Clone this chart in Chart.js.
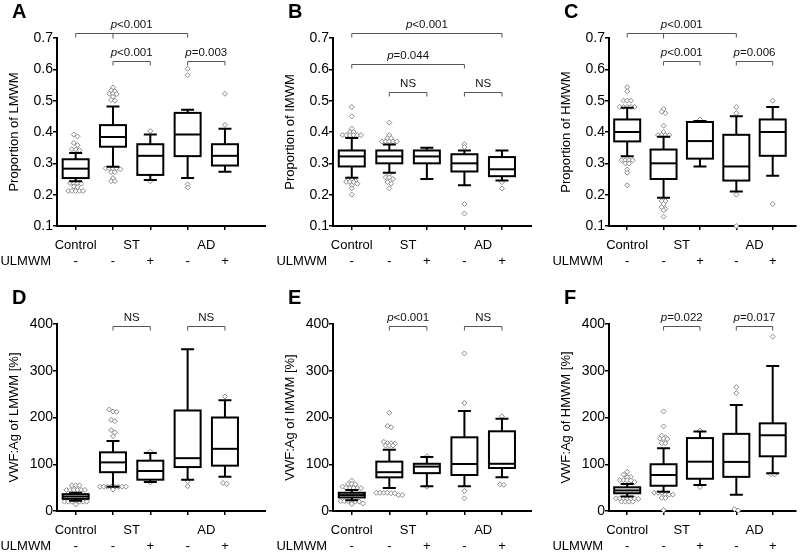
<!DOCTYPE html>
<html>
<head>
<meta charset="utf-8">
<script src="https://cdn.jsdelivr.net/npm/chart.js@4.4.1/dist/chart.umd.min.js"></script>
<style>
  body { margin: 0; background: #fff; }
  #fig { position: relative; width: 800px; height: 554px; overflow: hidden; }
  canvas { position: absolute; }
</style>
</head>
<body>
<div id="fig">
  <canvas id="pA" width="266" height="277" style="left:0;top:0"></canvas>
  <canvas id="pB" width="266" height="277" style="left:266px;top:0"></canvas>
  <canvas id="pC" width="268" height="277" style="left:532px;top:0"></canvas>
  <canvas id="pD" width="266" height="277" style="left:0;top:277px"></canvas>
  <canvas id="pE" width="266" height="277" style="left:266px;top:277px"></canvas>
  <canvas id="pF" width="268" height="277" style="left:532px;top:277px"></canvas>
</div>
<script>
//------------------------------------------ data ------------------------------------------
const xPositions = [1, 2, 3, 4, 5];
const groupLabels = ['Control', 'ST', 'AD'];
const groupCenters = [1, 2.5, 4.5];
const ulmwmLabels = ['-', '-', '+', '-', '+'];

// each box: [lower whisker, Q1, median, Q3, upper whisker]
const lmwmPropBoxes = [
  [0.243, 0.253, 0.283, 0.313, 0.333],
  [0.289, 0.353, 0.384, 0.422, 0.481],
  [0.247, 0.263, 0.324, 0.361, 0.392],
  [0.253, 0.323, 0.392, 0.461, 0.471],
  [0.273, 0.293, 0.324, 0.361, 0.410]
];
const lmwmPropOut = [
  [0.392, 0.386, 0.365, 0.358, 0.345, 0.344, 0.342, 0.237, 0.236, 0.236, 0.235, 0.226, 0.224, 0.212, 0.212, 0.212, 0.212, 0.212],
  [0.542, 0.533, 0.530, 0.522, 0.522, 0.521, 0.512, 0.502, 0.500, 0.284, 0.284, 0.284, 0.284, 0.281, 0.272, 0.272, 0.253, 0.243, 0.243],
  [0.403, 0.243],
  [0.602, 0.581, 0.233, 0.223],
  [0.522, 0.423]
];
const imwmPropBoxes = [
  [0.254, 0.290, 0.322, 0.341, 0.381],
  [0.270, 0.300, 0.322, 0.341, 0.360],
  [0.250, 0.300, 0.322, 0.341, 0.350],
  [0.230, 0.274, 0.300, 0.329, 0.341],
  [0.245, 0.259, 0.281, 0.320, 0.341]
];
const imwmPropOut = [
  [0.480, 0.450, 0.411, 0.400, 0.400, 0.390, 0.390, 0.390, 0.390, 0.390, 0.390, 0.250, 0.250, 0.244, 0.241, 0.241, 0.240, 0.235, 0.230, 0.220, 0.200],
  [0.430, 0.390, 0.380, 0.380, 0.370, 0.370, 0.370, 0.370, 0.370, 0.265, 0.255, 0.255, 0.250, 0.240, 0.235, 0.220],
  [],
  [0.361, 0.352, 0.170, 0.140],
  [0.240, 0.220]
];
const hmwmPropBoxes = [
  [0.323, 0.370, 0.400, 0.440, 0.477],
  [0.190, 0.250, 0.300, 0.344, 0.385],
  [0.290, 0.315, 0.371, 0.432, 0.435],
  [0.210, 0.245, 0.290, 0.391, 0.450],
  [0.260, 0.324, 0.400, 0.440, 0.480]
];
const hmwmPropOut = [
  [0.543, 0.530, 0.500, 0.500, 0.500, 0.480, 0.480, 0.480, 0.480, 0.480, 0.310, 0.310, 0.310, 0.310, 0.300, 0.300, 0.280, 0.270, 0.230],
  [0.473, 0.465, 0.460, 0.420, 0.400, 0.390, 0.390, 0.390, 0.390, 0.180, 0.180, 0.170, 0.160, 0.155, 0.150, 0.130],
  [0.440],
  [0.480, 0.460, 0.200, 0.100],
  [0.500, 0.170]
];
const lmwmAgBoxes = [
  [22, 26, 31, 36, 39],
  [52, 83, 104, 125.5, 150],
  [62, 67, 85.6, 107.6, 124],
  [67, 94, 113, 215, 346],
  [73, 97, 133, 200, 237]
];
const lmwmAgOut = [
  [55, 55, 55, 45, 45, 45, 45, 45, 45, 20, 20, 20, 20, 20, 20, 20, 14],
  [217, 213, 212, 195, 192, 173, 168, 160, 52, 52, 52, 52, 52, 52, 52, 52, 46],
  [127, 61],
  [64, 53],
  [245, 60, 58]
];
const imwmAgBoxes = [
  [23, 29, 34, 39, 45],
  [49, 72, 83, 105.6, 131],
  [53, 81, 95, 101, 115.5],
  [53, 77, 100.5, 157.6, 214],
  [72, 92, 101, 170.5, 197.5]
];
const imwmAgOut = [
  [65, 58, 58, 57, 52, 50, 49, 49, 49, 49, 21, 21, 21, 21, 20, 20, 16, 15],
  [210, 182, 179, 148, 145, 145, 144, 140, 140, 140, 39, 39, 39, 39, 38, 38, 34, 34],
  [117, 52],
  [337, 231, 43, 27],
  [202.5, 57, 56]
];
const hmwmAgBoxes = [
  [31, 38, 44, 50.7, 58],
  [41, 54, 77, 100, 134],
  [55.6, 69, 105.5, 156, 170],
  [35, 73, 105, 165, 227],
  [80.6, 117, 162, 187.5, 310]
];
const hmwmAgOut = [
  [84, 78, 73, 73, 72, 66, 66, 66, 65, 62, 27, 27, 27, 27, 27, 27, 26, 20, 20, 20, 20],
  [213, 181, 161, 158, 155, 155, 154, 145, 145, 39, 39, 39, 35, 35, 35, 28, 28, 2],
  [172, 51],
  [265, 252, 4, 1],
  [373, 78.5, 78]
];

// comparison brackets: [from, to, level (axis units), label, middle tick]
const lmwmPropBrackets = [[1, 4, 0.717, 'p<0.001', 2], [2, 3, 0.627, 'p<0.001'], [4, 5, 0.627, 'p=0.003']];
const imwmPropBrackets = [[1, 5, 0.717, 'p<0.001'], [1, 4, 0.617, 'p=0.044'], [2, 3, 0.528, 'NS'], [4, 5, 0.528, 'NS']];
const hmwmPropBrackets = [[1, 4, 0.717, 'p<0.001', 2], [2, 3, 0.627, 'p<0.001'], [4, 5, 0.627, 'p=0.006']];
const lmwmAgBrackets = [[2, 3, 396, 'NS'], [4, 5, 396, 'NS']];
const imwmAgBrackets = [[2, 3, 396, 'p<0.001'], [4, 5, 396, 'NS']];
const hmwmAgBrackets = [[2, 3, 396, 'p=0.022'], [4, 5, 396, 'p=0.017']];

//------------------------------------------ drawing ------------------------------------------
const FAM = '"Liberation Sans", Arial, Helvetica, sans-serif';

function spread(vals, cx, y) {
  const pts = vals.map(v => ({ v: v, py: y.getPixelForValue(v) })).sort((a, b) => a.py - b.py);
  const rows = [];
  pts.forEach(pt => {
    const row = rows[rows.length - 1];
    if (row && pt.py - row[0].py < 2.5) row.push(pt); else rows.push([pt]);
  });
  rows.forEach(row => row.forEach((pt, k) => { pt.px = cx + (k - (row.length - 1) / 2) * 3.7; }));
  return pts;
}

function drawLabel(ctx, text, cx, cy) {
  const italic = text[0] === 'p';
  const rest = italic ? text.slice(1) : text;
  ctx.font = '11.5px ' + FAM;
  const wr = ctx.measureText(rest).width;
  let wp = 0;
  if (italic) {
    ctx.font = 'italic 11.5px ' + FAM;
    wp = ctx.measureText('p').width;
  }
  const x0 = cx - (wp + wr) / 2;
  ctx.textAlign = 'left';
  ctx.textBaseline = 'middle';
  ctx.fillStyle = '#111';
  if (italic) ctx.fillText('p', x0, cy);
  ctx.font = '11.5px ' + FAM;
  ctx.fillText(rest, x0 + wp, cy);
}

function boxPlugin(p) {
  return {
    id: 'box' + p.letter,
    afterDraw(chart) {
      const ctx = chart.ctx, x = chart.scales.x, y = chart.scales.y, area = chart.chartArea;
      ctx.save();

      // outliers
      p.outliers.forEach((vals, i) => {
        const cx = x.getPixelForValue(xPositions[i]);
        spread(vals, cx, y).forEach(pt => {
          ctx.beginPath();
          ctx.moveTo(pt.px, pt.py - 2.5);
          ctx.lineTo(pt.px + 2.5, pt.py);
          ctx.lineTo(pt.px, pt.py + 2.5);
          ctx.lineTo(pt.px - 2.5, pt.py);
          ctx.closePath();
          ctx.fillStyle = '#fff';
          ctx.fill();
          ctx.lineWidth = 1;
          ctx.strokeStyle = '#8a8a8a';
          ctx.stroke();
        });
      });

      // boxes
      ctx.strokeStyle = '#000';
      ctx.lineWidth = 2;
      p.boxes.forEach((b, i) => {
        const cx = x.getPixelForValue(xPositions[i]);
        const lo = y.getPixelForValue(b[0]), q1 = y.getPixelForValue(b[1]), med = y.getPixelForValue(b[2]);
        const q3 = y.getPixelForValue(b[3]), hi = y.getPixelForValue(b[4]);
        const hw = 13, cw = 6.5;
        ctx.beginPath();
        ctx.moveTo(cx, q3); ctx.lineTo(cx, hi);
        ctx.moveTo(cx - cw, hi); ctx.lineTo(cx + cw, hi);
        ctx.moveTo(cx, q1); ctx.lineTo(cx, lo);
        ctx.moveTo(cx - cw, lo); ctx.lineTo(cx + cw, lo);
        ctx.stroke();
        ctx.fillStyle = '#fff';
        ctx.fillRect(cx - hw, q3, hw * 2, q1 - q3);
        ctx.strokeRect(cx - hw, q3, hw * 2, q1 - q3);
        ctx.beginPath();
        ctx.moveTo(cx - hw, med); ctx.lineTo(cx + hw, med);
        ctx.stroke();
      });

      // brackets
      p.brackets.forEach(br => {
        const x1 = x.getPixelForValue(br[0]), x2 = x.getPixelForValue(br[1]);
        const by = Math.round(y.getPixelForValue(br[2])) + 0.5;
        ctx.strokeStyle = '#555';
        ctx.lineWidth = 1;
        ctx.beginPath();
        ctx.moveTo(x1, by + 4); ctx.lineTo(x1, by); ctx.lineTo(x2, by); ctx.lineTo(x2, by + 4);
        if (br[4]) {
          const xm = x.getPixelForValue(br[4]);
          ctx.moveTo(xm, by); ctx.lineTo(xm, by + 5);
        }
        ctx.stroke();
        drawLabel(ctx, br[3], (x1 + x2) / 2, by - 9);
      });

      // group names and ULMWM row label
      ctx.fillStyle = '#000';
      ctx.font = '13px ' + FAM;
      ctx.textBaseline = 'middle';
      ctx.textAlign = 'center';
      groupLabels.forEach((g, i) => {
        ctx.fillText(g, x.getPixelForValue(groupCenters[i]), area.bottom + 19.5);
      });
      ctx.textAlign = 'right';
      ctx.fillText('ULMWM', area.left - 6, area.bottom + 35.5);

      // panel letter
      ctx.font = 'bold 20px ' + FAM;
      ctx.textAlign = 'left';
      ctx.textBaseline = 'alphabetic';
      ctx.fillText(p.letter, area.left - 45, area.top - 20);
      ctx.restore();
    }
  };
}

const panels = [
  { id: 'pA', letter: 'A', title: 'Proportion of LMWM', boxes: lmwmPropBoxes, outliers: lmwmPropOut, brackets: lmwmPropBrackets, yMin: 0.1, yMax: 0.7, yStep: 0.1, xMax: 6.1, top: 38, xH: 51 },
  { id: 'pB', letter: 'B', title: 'Proportion of IMWM', boxes: imwmPropBoxes, outliers: imwmPropOut, brackets: imwmPropBrackets, yMin: 0.1, yMax: 0.7, yStep: 0.1, xMax: 5.8, top: 38, xH: 51 },
  { id: 'pC', letter: 'C', title: 'Proportion of HMWM', boxes: hmwmPropBoxes, outliers: hmwmPropOut, brackets: hmwmPropBrackets, yMin: 0.1, yMax: 0.7, yStep: 0.1, xMax: 5.63, top: 38, xH: 51 },
  { id: 'pD', letter: 'D', title: 'VWF:Ag of LMWM [%]', boxes: lmwmAgBoxes, outliers: lmwmAgOut, brackets: lmwmAgBrackets, yMin: 0, yMax: 400, yStep: 100, xMax: 6.1, top: 47, xH: 43 },
  { id: 'pE', letter: 'E', title: 'VWF:Ag of IMWM [%]', boxes: imwmAgBoxes, outliers: imwmAgOut, brackets: imwmAgBrackets, yMin: 0, yMax: 400, yStep: 100, xMax: 5.8, top: 47, xH: 43 },
  { id: 'pF', letter: 'F', title: 'VWF:Ag of HMWM [%]', boxes: hmwmAgBoxes, outliers: hmwmAgOut, brackets: hmwmAgBrackets, yMin: 0, yMax: 400, yStep: 100, xMax: 5.63, top: 47, xH: 43 }
];

const axisLeft = { pA: 57, pB: 67, pC: 77, pD: 57, pE: 67, pF: 77 };

panels.forEach(p => {
  const ctx = document.getElementById(p.id).getContext('2d');
  new Chart(ctx, {
    type: 'scatter',
    data: { datasets: [{ data: [] }] },
    options: {
      responsive: false,
      animation: false,
      events: [],
      layout: { padding: { left: axisLeft[p.id] - 50, top: p.top, right: 0, bottom: 0 } },
      plugins: { legend: { display: false }, tooltip: { enabled: false } },
      scales: {
        x: {
          type: 'linear',
          min: 0.5,
          max: p.xMax,
          afterBuildTicks: s => { s.ticks = xPositions.map(v => ({ value: v })); },
          afterFit: s => { s.height = p.xH; },
          ticks: {
            autoSkip: false,
            maxRotation: 0,
            padding: 23.5,
            color: '#000',
            font: { family: FAM, size: 13 },
            callback: v => ulmwmLabels[xPositions.indexOf(v)]
          },
          grid: { display: true, drawOnChartArea: false, drawTicks: true, tickLength: 4, color: '#000', lineWidth: 1.5 },
          border: { display: true, color: '#000', width: 2 }
        },
        y: {
          min: p.yMin,
          max: p.yMax,
          afterFit: s => { s.width = 50; },
          ticks: {
            stepSize: p.yStep,
            padding: 0,
            color: '#000',
            font: { family: FAM, size: 14 },
            callback: v => p.yStep < 1 ? v.toFixed(1) : v
          },
          grid: { display: true, drawOnChartArea: false, drawTicks: true, tickLength: 4, color: '#000', lineWidth: 1.5 },
          border: { display: true, color: '#000', width: 2 },
          title: { display: true, text: p.title, color: '#000', font: { family: FAM, size: 13 }, padding: { top: 0, bottom: 0 } }
        }
      }
    },
    plugins: [boxPlugin(p)]
  });
});
</script>
</body>
</html>
